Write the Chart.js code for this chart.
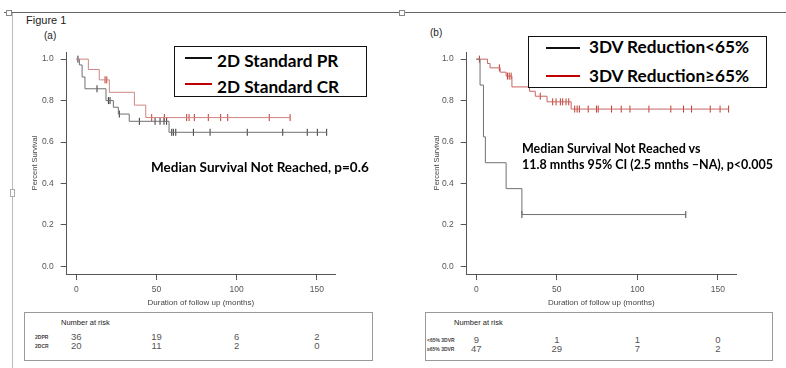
<!DOCTYPE html>
<html><head><meta charset="utf-8">
<script src="https://cdn.jsdelivr.net/npm/chart.js@4.4.1/dist/chart.umd.min.js"></script>
<style>
body{margin:0;width:786px;height:368px;background:#fff;position:relative;overflow:hidden;font-family:"Liberation Sans",Arial,sans-serif;}
.abs{position:absolute;white-space:nowrap;}
.leg{position:absolute;border:1.5px solid #111;background:#fff;box-sizing:border-box;}
.legtxt{position:absolute;white-space:nowrap;font-family:Lato,"Open Sans",sans-serif;font-weight:bold;font-size:17.2px;line-height:19px;color:#000;}
.legline{position:absolute;height:2px;}
.ann{position:absolute;white-space:nowrap;font-family:Lato,"Open Sans",sans-serif;font-weight:bold;font-size:12.5px;line-height:15px;color:#000;}
.risk{position:absolute;border:1px solid #999;box-sizing:border-box;background:#fff;}
.rtitle{position:absolute;white-space:nowrap;font-size:7.5px;color:#222;}
.rlab{position:absolute;white-space:nowrap;font-size:5px;font-weight:bold;color:#444;}
.rnum{position:absolute;white-space:nowrap;font-size:9.5px;color:#555;transform:translateX(-50%);}
canvas{position:absolute;}
</style></head><body>
<div class="abs" style="left:4px;top:12px;width:782px;height:1px;background:#666;"></div>
<div class="abs" style="left:12px;top:13px;width:1px;height:355px;background:#bbb;"></div>
<div class="abs" style="left:6px;top:10px;width:4px;height:4px;border:1px solid #888;background:#fff;"></div>
<div class="abs" style="left:399px;top:10px;width:4px;height:4px;border:1px solid #888;background:#fff;"></div>
<div class="abs" style="left:10px;top:189px;width:3px;height:6px;border:1px solid #aaa;background:#fff;"></div>
<div class="abs" style="left:26px;top:14px;font-size:11px;color:#222;">Figure 1</div>
<div class="abs" style="left:44px;top:30px;font-size:10px;color:#222;">(a)</div>
<div class="abs" style="left:430px;top:27px;font-size:10px;color:#222;">(b)</div>

<canvas id="ca" width="395" height="270" style="left:0;top:40px"></canvas>
<canvas id="cb" width="386" height="270" style="left:400px;top:40px"></canvas>

<div class="leg" style="left:174px;top:46px;width:193px;height:51px;"></div>
<div class="legline" style="left:185px;top:56.5px;width:27px;background:#111;"></div>
<div class="legline" style="left:185px;top:83px;width:27px;background:#c00000;"></div>
<div class="legtxt" style="left:217px;top:50.5px;">2D Standard PR</div>
<div class="legtxt" style="left:217px;top:76.5px;">2D Standard CR</div>

<div class="leg" style="left:528px;top:36px;width:239px;height:52px;"></div>
<div class="legline" style="left:546px;top:46.5px;width:34px;background:#111;"></div>
<div class="legline" style="left:546px;top:75px;width:34px;background:#c00000;"></div>
<div class="legtxt" style="left:589px;top:37px;">3DV Reduction&lt;65%</div>
<div class="legtxt" style="left:589px;top:65.5px;">3DV Reduction≥65%</div>

<div class="ann" style="left:151px;top:159.6px;font-size:13.5px;">Median Survival Not Reached, p=0.6</div>
<div class="ann" style="left:522px;top:141px;">Median Survival Not Reached vs</div>
<div class="ann" style="left:522px;top:157px;">11.8 mnths 95% CI (2.5 mnths –NA), p&lt;0.005</div>

<div class="risk" style="left:24px;top:312px;width:349px;height:49px;"></div>
<div class="risk" style="left:425px;top:312px;width:348px;height:49px;"></div>
<div id="tables"></div>

<script>
// ---- shared axis ticks ----
const xTicks = [0, 50, 100, 150];
const yTicks = [0, 0.2, 0.4, 0.6, 0.8, 1.0];

// ---- Panel (a): 2D Standard PR (black) ----
const prTimes  = [0, 1.9, 3.6, 5.4, 18.5, 23.1, 26.2, 33.0, 57.8, 156.3];
const prSurv   = [1.0, 0.972, 0.914, 0.857, 0.80, 0.768, 0.735, 0.70, 0.647, 0.647];
const prCensor = [1.0, 12.9, 20.0, 21.0, 26.8, 39.3, 49.1, 52.2, 54.7, 56.3, 59.5, 60.5, 62.0, 73.0, 83.4, 106.6, 128.7, 144.0, 150.3, 156.1];
// ---- Panel (a): 2D Standard CR (red) ----
const crTimes  = [0, 7.5, 14.3, 20.6, 36.2, 43.3, 133.3];
const crSurv   = [1.0, 0.95, 0.90, 0.84, 0.778, 0.718, 0.718];
const crCensor = [17.9, 19.0, 47.0, 54.9, 68.8, 70.3, 73.6, 82.3, 90.0, 94.4, 120.3, 133.3];

// ---- Panel (b): 3DV Reduction <65% (black) ----
const lowTimes  = [0, 2.3, 4.4, 5.6, 18.5, 28.3, 130.1];
const lowSurv   = [1.0, 0.875, 0.625, 0.5, 0.375, 0.25, 0.25];
const lowCensor = [28.3, 130.1];
// ---- Panel (b): 3DV Reduction >=65% (red) ----
const highTimes  = [0, 6.9, 8.5, 14.8, 18.5, 22.1, 33.0, 36.6, 43.9, 58.9, 157.0];
const highSurv   = [1.0, 0.979, 0.958, 0.937, 0.918, 0.866, 0.845, 0.821, 0.794, 0.759, 0.759];
const highCensor = [1.9, 14.3, 19.3, 20.4, 21.6, 39.7, 47.4, 49.5, 52.2, 53.6, 55.7, 57.4, 61.1, 62.6, 64.0, 69.5, 74.6, 75.7, 84.0, 90.0, 95.4, 107.2, 120.8, 128.7, 133.7, 145.3, 151.4, 156.7];

// ---- Number at risk ----
const riskTimes = [0, 50, 100, 150];
const riskPR   = [36, 19, 6, 2];
const riskCR   = [20, 11, 2, 0];
const riskLow  = [9, 1, 1, 0];
const riskHigh = [47, 29, 7, 2];

function survAt(times, surv, t) {
  let s = surv[0];
  for (let i = 0; i < times.length; i++) if (times[i] <= t) s = surv[i];
  return s;
}
function curvePts(times, surv) { return times.map((t, i) => ({x: t, y: surv[i]})); }
function censorPts(times, surv, cs) { return cs.map(t => ({x: t, y: survAt(times, surv, t)})); }

function stepSet(times, surv, color) {
  return {data: curvePts(times, surv), borderColor: color, borderWidth: 1, stepped: 'before',
          pointRadius: 0, fill: false, clip: 4};
}
function censorSet(times, surv, cs, color) {
  return {data: censorPts(times, surv, cs), showLine: false, pointStyle: 'line', rotation: 90,
          pointRadius: 3.5, pointBorderWidth: 1, pointBorderColor: color, borderColor: color, clip: 6};
}

const tickFont = {family: '"Liberation Sans", Arial, sans-serif', size: 8.5};
function makeChart(id, datasets, padRight, yTitlePad) {
  return new Chart(document.getElementById(id), {
    type: 'line',
    data: {datasets},
    options: {
      responsive: false, animation: false, events: [],
      layout: {padding: {top: 10, right: padRight, left: 0, bottom: 0}},
      plugins: {legend: {display: false}, tooltip: {enabled: false}},
      scales: {
        x: {
          type: 'linear', min: -6, max: 161.3,
          afterBuildTicks: s => { s.ticks = xTicks.map(v => ({value: v})); },
          afterFit: s => { s.height = 36; },
          grid: {drawOnChartArea: false, drawTicks: true, tickLength: 6, color: '#555'},
          border: {display: true, color: '#555', width: 1},
          ticks: {font: tickFont, color: '#555', padding: 5, maxRotation: 0, autoSkip: false},
          title: {display: true, text: 'Duration of follow up (months)', color: '#444',
                  font: {family: '"Liberation Sans", Arial, sans-serif', size: 8}, padding: {top: 0, bottom: 2}}
        },
        y: {
          type: 'linear', min: -0.037, max: 1.034,
          afterBuildTicks: s => { s.ticks = yTicks.map(v => ({value: v})); },
          afterFit: s => { s.width = 66.7; },
          grid: {drawOnChartArea: false, drawTicks: true, tickLength: 6, color: '#555'},
          border: {display: true, color: '#555', width: 1},
          ticks: {font: tickFont, color: '#555', padding: 7, callback: v => Number(v).toFixed(1)},
          title: {display: true, text: 'Percent Survival', color: '#444',
                  font: {family: '"Liberation Sans", Arial, sans-serif', size: 7.5}, padding: {top: yTitlePad, bottom: 0}}
        }
      }
    }
  });
}

const chartA = makeChart('ca', [
  stepSet(crTimes, crSurv, '#cf8585'),
  stepSet(prTimes, prSurv, '#707070'),
  censorSet(crTimes, crSurv, crCensor, '#c0392b'),
  censorSet(prTimes, prSurv, prCensor, '#333')
], 60, 30.5);

const chartB = makeChart('cb', [
  stepSet(lowTimes, lowSurv, '#707070'),
  stepSet(highTimes, highSurv, '#c96565'),
  censorSet(lowTimes, lowSurv, lowCensor, '#444'),
  censorSet(highTimes, highSurv, highCensor, '#c0392b')
], 50, 32.2);

// number-at-risk tables, columns aligned to each chart's x scale
function riskTable(chart, offsetX, titleX, rows) {
  const host = document.getElementById('tables');
  const t = document.createElement('div');
  t.className = 'rtitle'; t.textContent = 'Number at risk';
  t.style.left = titleX + 'px'; t.style.top = '318px';
  host.appendChild(t);
  rows.forEach(r => {
    const l = document.createElement('div');
    l.className = 'rlab'; l.textContent = r.label;
    l.style.left = r.labelX + 'px'; l.style.top = (r.y - 3) + 'px';
    host.appendChild(l);
    riskTimes.forEach((tm, i) => {
      const n = document.createElement('div');
      n.className = 'rnum'; n.textContent = r.values[i];
      n.style.left = (offsetX + chart.scales.x.getPixelForValue(tm)) + 'px';
      n.style.top = (r.y - 6) + 'px';
      host.appendChild(n);
    });
  });
}
riskTable(chartA, 0, 61, [
  {label: '2DPR', labelX: 35, y: 336.5, values: riskPR},
  {label: '2DCR', labelX: 35, y: 345.5, values: riskCR}
]);
riskTable(chartB, 400, 454, [
  {label: '<65% 3DVR', labelX: 427, y: 339.5, values: riskLow},
  {label: '≥65% 3DVR', labelX: 427, y: 348.5, values: riskHigh}
]);
</script>
</body></html>
